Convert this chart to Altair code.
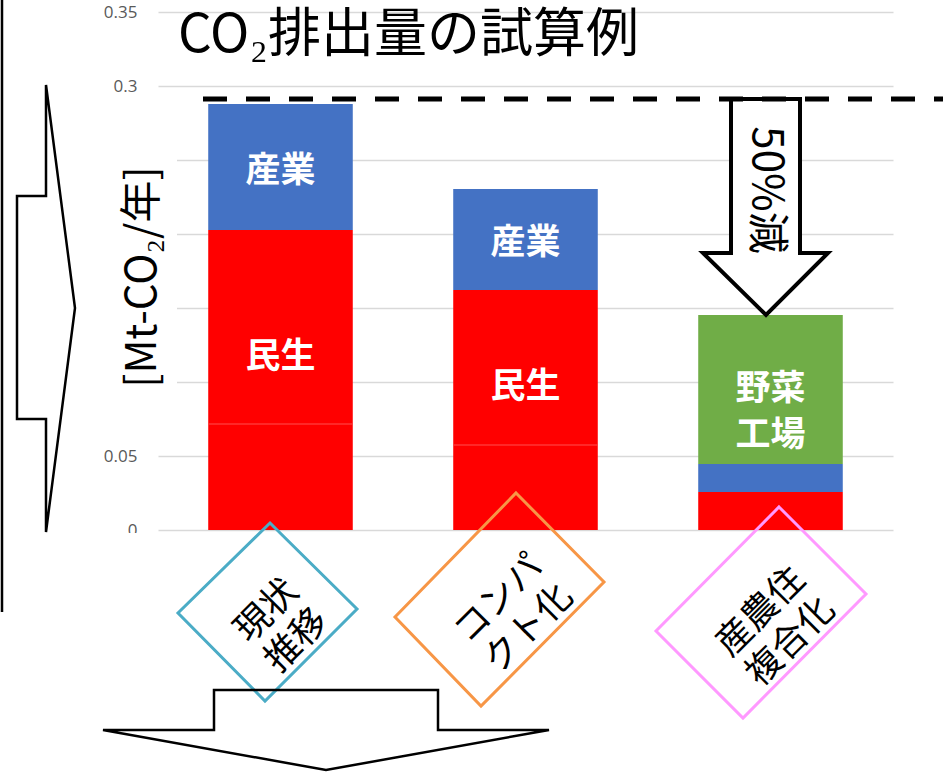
import altair as alt
import pandas as pd

# ---- data ----
categories = ["現状推移", "コンパクト化", "産農住複合化"]
series = ["民生(下)", "民生(上)", "産業", "野菜工場"]
minsei_lower = [0.0716, 0.0574, 0.0257]
minsei_upper = [0.1311, 0.1048, 0.0]
sangyo = [0.0851, 0.0682, 0.0189]
yasai = [0.0, 0.0, 0.1007]
series_colors = ["#ff0000", "#ff0000", "#4472c4", "#70ad47"]
y_ticks = [0, 0.05, 0.1, 0.15, 0.2, 0.25, 0.3, 0.35]
cat_labels = ["現状\n推移", "コンパ\nクト化", "産農住\n複合化"]
diamond_colors = ["#4bacc6", "#f79646", "#ff99ff"]
title_text = "CO₂排出量の試算例"
y_title_text = "[Mt-CO₂/年]"
arrow_text = "50%減"

# ---- build tables ----
rows = []
for i, c in enumerate(categories):
    for k, vals in enumerate([minsei_lower, minsei_upper, sangyo, yasai]):
        rows.append({"cat": c, "series": series[k], "value": vals[i], "order": k})
df = pd.DataFrame(rows)

lab_rows = []
seam_rows = []
for i, c in enumerate(categories):
    red = minsei_lower[i] + minsei_upper[i]
    if minsei_upper[i] > 0:
        seam_rows.append({"cat": c, "y": minsei_lower[i]})
    if red >= 0.05:
        lab_rows.append({"cat": c, "y": red / 2, "text": "民生", "kind": "m"})
    if sangyo[i] >= 0.05:
        lab_rows.append({"cat": c, "y": red + sangyo[i] / 2, "text": "産業", "kind": "s"})
    if yasai[i] >= 0.05:
        lab_rows.append({"cat": c, "y": red + sangyo[i] + yasai[i] / 2, "text": "野菜\n工場", "kind": "y"})
labs = pd.DataFrame(lab_rows)
seams = pd.DataFrame(seam_rows)

dummy = pd.DataFrame({"k": [0]})
JP = "Noto Sans CJK JP"

xenc = alt.X("cat:N", sort=categories, axis=None,
             scale=alt.Scale(paddingInner=0.41, paddingOuter=0.205))

bars = alt.Chart(df).mark_bar().encode(
    x=xenc,
    y=alt.Y("value:Q", stack="zero",
            scale=alt.Scale(domain=[0, 0.35], nice=False),
            axis=alt.Axis(values=y_ticks, format="~g", title=None, domain=False,
                          ticks=False, labelColor="#595959", labelFontSize=17,
                          labelFont="Open Sans", labelPadding=21,
                          gridColor="#d9d9d9", gridWidth=1.5)),
    color=alt.Color("series:N", scale=alt.Scale(domain=series, range=series_colors), legend=None),
    order=alt.Order("order:Q"),
)

seam = alt.Chart(seams).mark_tick(color="#ff5050", thickness=1, size=144, opacity=1).encode(
    x=xenc, y=alt.Y("y:Q"))

def bar_labels(kind, dy=0):
    return alt.Chart(labs).transform_filter(alt.datum.kind == kind).mark_text(
        color="white", font=JP, fontWeight="bold", fontSize=35, baseline="middle",
        lineBreak="\n", lineHeight=46, dy=dy
    ).encode(x=xenc, y=alt.Y("y:Q"), text="text:N")

OX, OY = 158, 12  # page position of plot origin

def shape(path, stroke, sw, fill=None):
    kw = dict(shape=path, size=4, stroke=stroke, strokeWidth=sw, opacity=1, strokeJoin="miter")
    if fill:
        kw.update(filled=True, fill=fill)
    else:
        kw.update(filled=False)
    return alt.Chart(dummy).mark_point(**kw).encode(x=alt.value(-OX), y=alt.value(-OY))

def txt(text, cx, cy, **kw):
    return alt.Chart(dummy).mark_text(text=text, font=JP, **kw).encode(
        x=alt.value(cx - OX), y=alt.value(cy - OY))

def rect(x1, y1, x2, y2):
    return alt.Chart(dummy).mark_rect(color="white").encode(
        x=alt.value(x1 - OX), x2=alt.value(x2 - OX), y=alt.value(y1 - OY), y2=alt.value(y2 - OY))

def cat_text(i, cx, cy):
    return txt(cat_labels[i], cx, cy, fontSize=36, angle=315, lineBreak="\n", lineHeight=42,
               align="center", baseline="middle", color="black")

layers = [
    bars,
    seam,
    rect(88, 140, 177, 420),
    rect(95, 533, 150, 548),
    bar_labels("s", dy=4),
    bar_labels("m", dy=-23),
    bar_labels("y"),
    # diamonds with category names
    shape("M270,523 L357,609 L265,701 L178,613 Z", diamond_colors[0], 3),
    shape("M516,493 L604,582 L481,706 L395,617 Z", diamond_colors[1], 3),
    shape("M779,507 L866,594 L743,718 L656,631 Z", diamond_colors[2], 3),
    cat_text(0, 267, 611),
    cat_text(1, 499, 599),
    cat_text(2, 761, 612),
    # reduction arrow
    shape("M731,99 L800,99 L800,253 L828,253 L766,315 L703,253 L731,253 Z", "black", 4, fill="white"),
    txt(arrow_text, 766, 190, fontSize=42, angle=90, align="center", baseline="middle", color="black"),
    alt.Chart(dummy).mark_rule(color="black", strokeWidth=5, strokeDash=[24, 19]).encode(
        x=alt.value(203 - OX), x2=alt.value(943 - OX), y=alt.value(99 - OY)),
    # side / bottom block arrows and frame line
    shape("M46,85 L75,308 L46,532 L46,419 L17,419 L17,196 L46,196 Z", "black", 2.5),
    shape("M214,690 L438,690 L438,730 L549,730 L326,770 L103,730 L214,730 Z", "black", 2.5),
    alt.Chart(dummy).mark_rule(color="black", strokeWidth=2.5).encode(
        x=alt.value(2 - OX), y=alt.value(-OY), y2=alt.value(612 - OY)),
    # titles
    txt(title_text, 178, 52, fontSize=53, align="left", baseline="alphabetic", color="black"),
    txt(y_title_text, 143, 277, fontSize=42, angle=270, align="center", baseline="middle", color="black"),
]

chart = alt.layer(*layers).properties(
    width=735, height=518,
    autosize="none",
    padding={"left": OX, "top": OY, "right": 943 - 893, "bottom": 772 - 530},
    background="white",
).configure_view(stroke=None)

chart.save("out.html", embed_options={"renderer": "svg", "actions": False})
